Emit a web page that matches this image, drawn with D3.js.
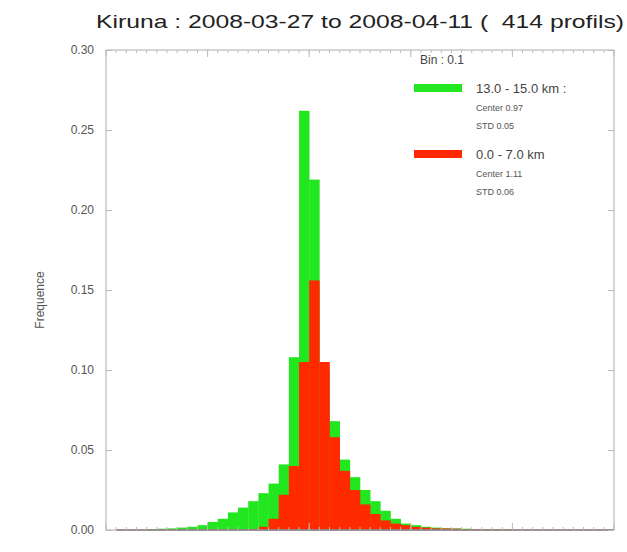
<!DOCTYPE html>
<html>
<head>
<meta charset="utf-8">
<script src="https://cdn.jsdelivr.net/npm/d3@7"></script>
<style>
  body { margin: 0; background: #fff; }
  svg { display: block; font-family: "Liberation Sans", Arial, sans-serif; }
</style>
</head>
<body>
<svg width="627" height="552"></svg>
<script>
// bin lower edges (bin width 0.1)
const binStarts = [-0.6, -0.5, -0.4, -0.3, -0.2, -0.1, 0.0, 0.1, 0.2, 0.3,
                   0.4, 0.5, 0.6, 0.7, 0.8, 0.9, 1.0, 1.1, 1.2, 1.3,
                   1.4, 1.5, 1.6, 1.7, 1.8, 1.9, 2.0, 2.1, 2.2, 2.3,
                   2.4, 2.5, 2.6, 2.7, 2.8, 2.9];
const binWidth = 0.1;

// 13.0 - 15.0 km
const highFreq = [0.0005, 0.0008, 0.001, 0.0015, 0.002, 0.003, 0.005, 0.007, 0.011, 0.014,
                  0.018, 0.023, 0.029, 0.041, 0.108, 0.262, 0.219, 0.100, 0.068, 0.044,
                  0.033, 0.025, 0.018, 0.012, 0.007, 0.004, 0.003, 0.002, 0.0015, 0.001,
                  0.001, 0.0008, 0.0005, 0.0005, 0.0003, 0.0003];
// 0.0 - 7.0 km
const lowFreq = [0, 0, 0, 0, 0, 0, 0, 0, 0, 0,
                 0.0005, 0.002, 0.007, 0.022, 0.040, 0.105, 0.156, 0.105, 0.058, 0.037,
                 0.025, 0.016, 0.010, 0.006, 0.004, 0.003, 0.002, 0.0015, 0.001, 0.001,
                 0.0008, 0.0006, 0.0005, 0.0004, 0.0003, 0.0002];

const yTicks = [0.00, 0.05, 0.10, 0.15, 0.20, 0.25, 0.30];
const xMajor = [-1, 0, 1, 2, 3, 4];

const legendItems = [
  { label: "13.0 - 15.0 km :", center: "Center 0.97", std: "STD 0.05", color: "#22e61e" },
  { label: "0.0 - 7.0 km", center: "Center 1.11", std: "STD 0.06", color: "#ff2a00" }
];

const svg = d3.select("svg");
const plot = { left: 106, right: 614, top: 50, bottom: 530 };

const x = d3.scaleLinear().domain([-1, 4]).range([plot.left, plot.right]);
const y = d3.scaleLinear().domain([0, 0.30]).range([plot.bottom, plot.top]);

// Title
svg.append("text")
  .attr("x", 96)
  .attr("y", 28)
  .attr("font-size", 19)
  .attr("fill", "#222")
  .attr("textLength", 528)
  .attr("lengthAdjust", "spacingAndGlyphs")
  .text("Kiruna : 2008-03-27 to 2008-04-11 (\u00a0\u00a0414 profils)");

// Histograms
function drawHist(values, color) {
  svg.append("g")
    .selectAll("rect")
    .data(binStarts.map((b, i) => ({ b, v: values[i] })).filter(d => d.v > 0))
    .enter()
    .append("rect")
    .attr("x", d => x(d.b))
    .attr("width", d => x(d.b + binWidth) - x(d.b) + 0.3)
    .attr("y", d => y(d.v))
    .attr("height", d => y(0) - y(d.v))
    .attr("fill", color);
}
drawHist(highFreq, legendItems[0].color);
drawHist(lowFreq, legendItems[1].color);

// Frame
const axisColor = "#bbb";
svg.append("rect")
  .attr("x", plot.left).attr("y", plot.top)
  .attr("width", plot.right - plot.left).attr("height", plot.bottom - plot.top)
  .attr("fill", "none").attr("stroke", axisColor).attr("stroke-width", 1.2);

// dark baseline along the tails
svg.append("line")
  .attr("x1", x(-0.9)).attr("x2", plot.right)
  .attr("y1", plot.bottom).attr("y2", plot.bottom)
  .attr("stroke", "#8a7a7a").attr("stroke-width", 1.5);

// Y axis ticks and labels
const yAxis = d3.axisLeft(y).tickValues(yTicks).tickFormat(d3.format(".2f")).tickSizeInner(-6).tickSizeOuter(0).tickPadding(12);
const gy = svg.append("g").attr("transform", `translate(${plot.left},0)`).call(yAxis);
gy.select(".domain").remove();
gy.selectAll("line").attr("stroke", axisColor);
gy.selectAll("text").attr("font-size", 12).attr("fill", "#555");

const yRight = d3.axisRight(y).tickValues(yTicks).tickSizeInner(-6).tickSizeOuter(0).tickFormat("");
const gyr = svg.append("g").attr("transform", `translate(${plot.right},0)`).call(yRight);
gyr.select(".domain").remove();
gyr.selectAll("line").attr("stroke", axisColor);

// X axis ticks (bottom and top)
const xMinor = d3.range(-1, 4.001, 0.1);
[[plot.bottom, -1], [plot.top, 1]].forEach(([yy, dir]) => {
  svg.append("g").selectAll("line").data(xMinor).enter().append("line")
    .attr("x1", d => x(d)).attr("x2", d => x(d))
    .attr("y1", yy).attr("y2", yy + dir * 3)
    .attr("stroke", axisColor);
  svg.append("g").selectAll("line").data(xMajor).enter().append("line")
    .attr("x1", d => x(d)).attr("x2", d => x(d))
    .attr("y1", yy).attr("y2", yy + dir * 7)
    .attr("stroke", axisColor);
});

// Y label
svg.append("text")
  .attr("transform", `translate(44,${(plot.top + plot.bottom) / 2 + 10}) rotate(-90)`)
  .attr("text-anchor", "middle")
  .attr("font-size", 12)
  .attr("fill", "#555")
  .text("Frequence");

// Legend
svg.append("text")
  .attr("x", 420).attr("y", 64)
  .attr("font-size", 12).attr("fill", "#444")
  .text("Bin : 0.1");

legendItems.forEach((item, i) => {
  const cy = 88 + i * 66;
  svg.append("rect")
    .attr("x", 414).attr("y", cy - 4)
    .attr("width", 48).attr("height", 8)
    .attr("fill", item.color);
  svg.append("text")
    .attr("x", 476).attr("y", cy + 5)
    .attr("font-size", 13).attr("fill", "#444")
    .text(item.label);
  svg.append("text")
    .attr("x", 476).attr("y", cy + 23)
    .attr("font-size", 9).attr("fill", "#555")
    .text(item.center);
  svg.append("text")
    .attr("x", 476).attr("y", cy + 41)
    .attr("font-size", 9).attr("fill", "#555")
    .text(item.std);
});
</script>
</body>
</html>
